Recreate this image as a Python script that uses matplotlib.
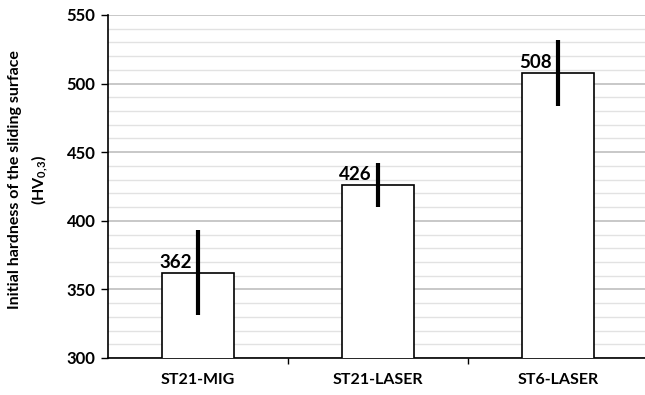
import numpy as np
import matplotlib.pyplot as plt
from matplotlib.ticker import MultipleLocator, FixedLocator

# data
categories = ["ST21-MIG", "ST21-LASER", "ST6-LASER"]
hardness = [362, 426, 508]
errors = [31, 16, 24]

plt.rcParams['font.family'] = ['Lato', 'DejaVu Sans']
plt.rcParams['mathtext.fontset'] = 'custom'
plt.rcParams['mathtext.bf'] = 'Lato:bold'
plt.rcParams['mathtext.rm'] = 'Lato:bold'

fig = plt.figure(figsize=(6.45, 3.95), dpi=100)
ax = fig.add_axes([108 / 645, 37 / 395, 540 / 645, 343 / 395])

x = np.arange(len(categories))
ax.bar(x, hardness, width=0.4, color="white", edgecolor="black", linewidth=1.2, zorder=3)
ax.errorbar(x, hardness, yerr=errors, fmt="none", ecolor="black", elinewidth=3,
            capsize=0, zorder=4)

for xi, v in zip(x, hardness):
    ax.text(xi - 0.035, v + 1.5, str(v), ha="right", va="bottom",
            fontsize=13.5, fontweight="bold", zorder=5)

ax.set_ylim(300, 550)
ax.set_xlim(-0.5, len(categories) - 0.5)
ax.yaxis.set_major_locator(MultipleLocator(50))
ax.yaxis.set_minor_locator(MultipleLocator(10))
ax.grid(axis="y", which="major", color="#c4c4c4", linewidth=1.3, zorder=0)
ax.grid(axis="y", which="minor", color="#e2e2e2", linewidth=1.0, zorder=0)
ax.set_axisbelow(True)

ax.set_xticks(x)
ax.set_xticklabels(categories, fontsize=11.5, fontweight="bold")
ax.tick_params(axis="x", which="major", length=0, pad=11)
ax.xaxis.set_minor_locator(FixedLocator([0.5, 1.5]))
ax.tick_params(axis="x", which="minor", length=4, width=1, color="black")
ax.tick_params(axis="y", which="major", length=5, width=1, labelsize=12, pad=4)
ax.tick_params(axis="y", which="minor", length=0)
for lab in ax.get_yticklabels():
    lab.set_fontweight("bold")

for s in ["top", "right"]:
    ax.spines[s].set_visible(False)
ax.spines["left"].set_linewidth(1.2)
ax.spines["bottom"].set_linewidth(1.2)

fig.text(15 / 645, 1 - 180 / 395, "Initial hardness of the sliding surface",
         rotation=90, ha="center", va="center", fontsize=11.5, fontweight="bold")
fig.text(40 / 645, 1 - 180 / 395, r"(HV$_{\mathbf{0{,}3}}$)",
         rotation=90, ha="center", va="center", fontsize=11.5, fontweight="bold")

fig.savefig("out.png", dpi=100)
